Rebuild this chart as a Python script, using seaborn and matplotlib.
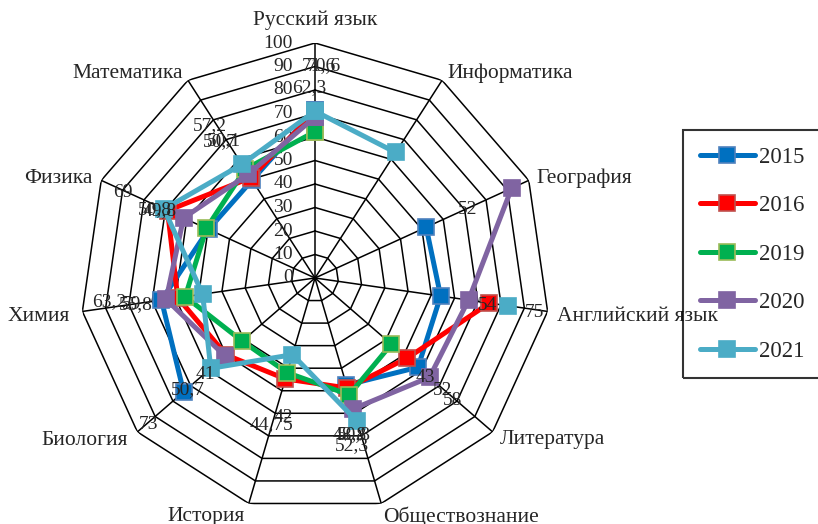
import numpy as np
import matplotlib
matplotlib.use("Agg")
import matplotlib.pyplot as plt
import seaborn as sns

# categories, clockwise from the top
subjects = ["Русский язык", "Информатика", "География", "Английский язык",
            "Литература", "Обществознание", "История", "Биология",
            "Химия", "Физика", "Математика"]

nan = np.nan
y2015 = [71.6, nan, 52, 54, 58, 47.5, nan, 74, 66, 49.8, 49.5]
y2016 = [70.6, nan, nan, 75, 52, 48.8, 44.75, 50, 59, 69, 50.7]
y2019 = [62.3, nan, nan, nan, 43, 51.8, 42, 41, 55.8, 50.8, 55]
y2020 = [68.5, nan, 92, 66, 64.5, 58, nan, 50.7, 64, 61.5, 52.5]
y2021 = [71, 63.5, nan, 83, nan, 63.5, 34, 58.7, 48.3, 70.6, 57.5]

years = ["2015", "2016", "2019", "2020", "2021"]
series = [y2015, y2016, y2019, y2020, y2021]
line_colors = ["#0070C0", "#FF0000", "#00B050", "#8064A2", "#4BACC6"]
edge_colors = ["#4F81BD", "#C0504D", "#9BBB59", "#8064A2", "#4BACC6"]

r_ticks = list(range(0, 101, 10))

# data labels as they sit in the picture: (text, angle in degrees, radius)
point_labels = [("71,6", 1.0, 90.5), ("70,6", 2.5, 90.5), ("62,3", 358.2, 81),
                ("57,2", 325.4, 78.6), ("50,7", 325.1, 70.6), ("50,1", 326.5, 70.0),
                ("69", 294.1, 89.5), ("50,8", 293.0, 74), ("49,8", 293.6, 72),
                ("63,2", 263.5, 88), ("59", 261.9, 79), ("55,8", 261.5, 77),
                ("41", 228.6, 62.4), ("50,7", 228.6, 72), ("73", 228.5, 94.4),
                ("42", 192.9, 61.1), ("44,75", 196.3, 65.2),
                ("48,8", 167.4, 68.4), ("50,8", 166.0, 68.8), ("52,3", 167.6, 73.2),
                ("43", 132.0, 63), ("52", 131.2, 72.4), ("58", 131.5, 78.4),
                ("52", 66.0, 71.3), ("54", 99.2, 74.2), ("75", 98.8, 94.7)]

sns.set_theme(style="white")
plt.rcParams["font.family"] = ["Liberation Serif", "DejaVu Serif"]

fig = plt.figure(figsize=(8.18, 5.24), dpi=100)
ax = fig.add_axes([80 / 818, 11 / 524, 470 / 818, 470 / 524], projection="polar")
ax.set_theta_zero_location("N")
ax.set_theta_direction(-1)
ax.set_ylim(0, 100)
ax.grid(False)
ax.spines["polar"].set_visible(False)
ax.set_xticks([])
ax.set_yticks([])
ax.patch.set_alpha(0)

angles = np.arange(len(subjects)) * 2 * np.pi / len(subjects)
closed = np.append(angles, angles[0])

# polygon web
for r in r_ticks[1:]:
    ax.plot(closed, [r] * len(closed), color="black", lw=1.1, zorder=1)
for a in angles:
    ax.plot([a, a], [0, 100], color="black", lw=1.1, zorder=1)

for r in r_ticks:
    ax.annotate(str(r), xy=(0, r), xytext=(-22, 0), textcoords="offset pixels",
                ha="right", va="center", fontsize=14)

# category labels
offsets = [(0, 23, "center"), (5, 7, "left"), (8, 2, "left"), (9, -5, "left"),
           (7, -8, "left"), (2, -13, "left"), (-4, -13, "right"), (-9, -9, "right"),
           (-12, -5, "right"), (-9, 2, "right"), (-5, 7, "right")]
for a, name, (dx, dy, ha) in zip(angles, subjects, offsets):
    ax.annotate(name, xy=(a, 100), xytext=(dx, dy), textcoords="offset pixels",
                ha=ha, va="center", fontsize=15.5, annotation_clip=False,
                zorder=20)

for i, (yr, vals) in enumerate(zip(years, series)):
    v = np.append(vals, vals[0])
    ax.plot(closed, v, color=line_colors[i], lw=3.6, marker="s", markersize=11,
            markerfacecolor=line_colors[i], markeredgecolor=edge_colors[i],
            markeredgewidth=1.2, solid_joinstyle="round", solid_capstyle="round",
            label=yr, zorder=3 + i, clip_on=False)

for txt, deg, r in point_labels:
    ax.text(np.deg2rad(deg), r, txt, ha="center", va="center", fontsize=14,
            zorder=10)

leg = fig.legend(loc="upper left", bbox_to_anchor=(683 / 818, 1 - 130 / 524),
                 fontsize=16.5, frameon=True, fancybox=False,
                 edgecolor="black", handlelength=2.4, labelspacing=1.2,
                 borderpad=0.72, handletextpad=0.2, borderaxespad=0)
leg.get_frame().set_linewidth(1.5)
leg.get_frame().set_facecolor("none")

fig.savefig("out.png", dpi=100)
